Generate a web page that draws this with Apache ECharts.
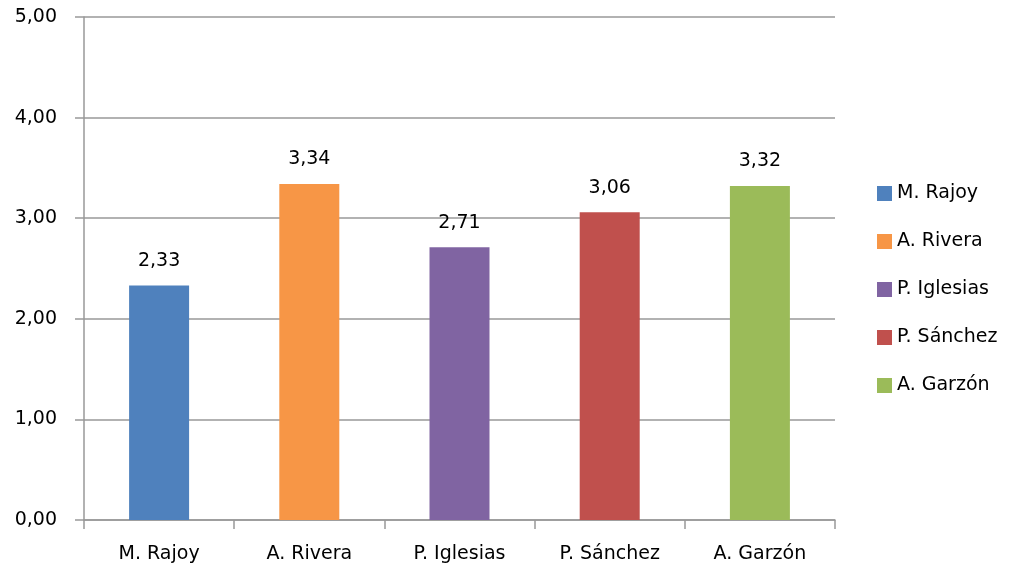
<!DOCTYPE html>
<html>
<head>
<meta charset="utf-8">
<script src="https://cdn.jsdelivr.net/npm/echarts@6/dist/echarts.min.js"></script>
<style>
  html, body { margin: 0; padding: 0; background: #fff; }
  #chart { width: 1011px; height: 569px; }
</style>
</head>
<body>
<div id="chart"></div>
<script>
const categories = ['M. Rajoy', 'A. Rivera', 'P. Iglesias', 'P. Sánchez', 'A. Garzón']
const values = [2.33, 3.34, 2.71, 3.06, 3.32]
const colors = ['#4f81bd', '#f79646', '#8064a2', '#c0504d', '#9bbb59']
const yTicks = [0, 1, 2, 3, 4, 5]

const fontFamily = 'DejaVu Sans'
const fmt = (v) => Number(v).toFixed(2).replace('.', ',')

const chart = echarts.init(document.getElementById('chart'))

// una serie por candidato para que salga en la leyenda
const series = categories.map((name, i) => ({
  name: name,
  type: 'bar',
  barWidth: 60,
  barGap: '-100%',
  itemStyle: { color: colors[i] },
  label: {
    show: true,
    position: 'top',
    distance: 15,
    formatter: (p) => fmt(p.value),
    color: '#000',
    fontFamily: fontFamily,
    fontSize: 19,
  },
  data: categories.map((c, j) => (j === i ? values[i] : null)),
}))

const option = {
  animation: false,
  grid: { left: 84, right: 176, top: 17, bottom: 49 },
  legend: {
    orient: 'vertical',
    left: 872,
    top: 179,
    itemWidth: 15,
    itemHeight: 15,
    itemGap: 29,
    icon: 'rect',
    textStyle: { fontFamily: fontFamily, fontSize: 19, color: '#000' },
    data: categories,
  },
  xAxis: {
    type: 'category',
    data: categories,
    axisLine: { lineStyle: { color: '#999', width: 1.5 } },
    axisTick: { show: true, length: 9, lineStyle: { color: '#999', width: 1.5 } },
    axisLabel: { fontFamily: fontFamily, fontSize: 19, color: '#000', margin: 25 },
  },
  yAxis: {
    type: 'value',
    min: yTicks[0],
    max: yTicks[yTicks.length - 1],
    interval: 1,
    axisLine: { show: true, lineStyle: { color: '#999', width: 1.5 } },
    axisTick: { show: true, length: 9, lineStyle: { color: '#999', width: 1.5 } },
    splitLine: { lineStyle: { color: '#999', width: 1.5 } },
    axisLabel: {
      formatter: fmt,
      fontFamily: fontFamily,
      fontSize: 19,
      color: '#000',
      margin: 27,
    },
  },
  series: series,
}

chart.setOption(option)
window.onresize = chart.resize
</script>
</body>
</html>
